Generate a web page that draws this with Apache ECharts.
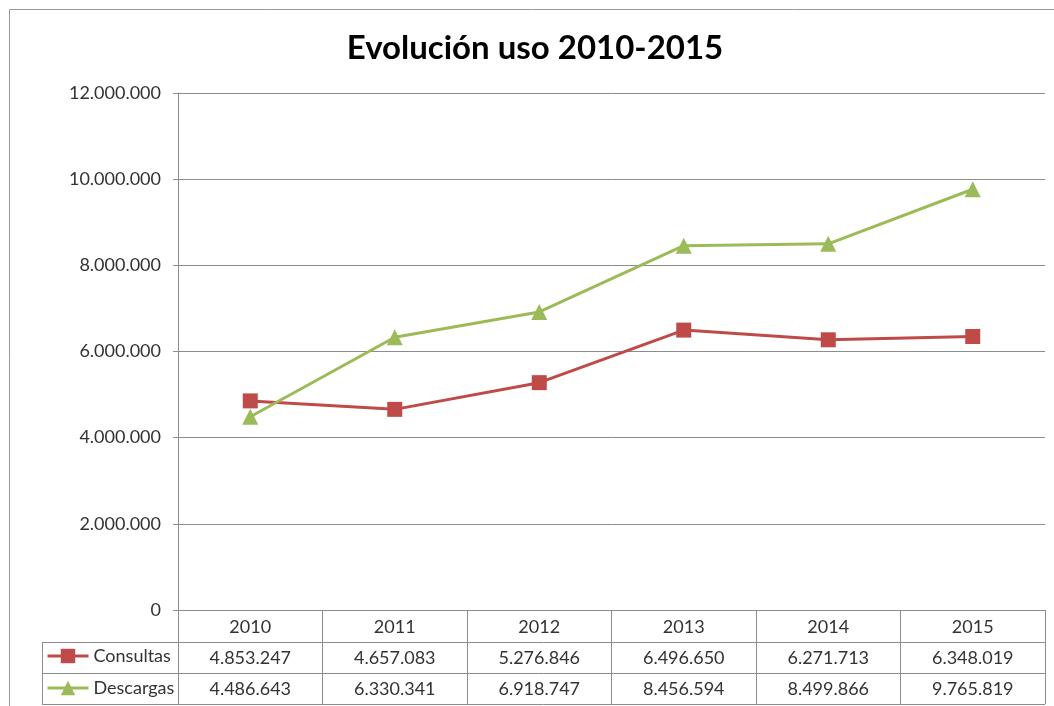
<!DOCTYPE html>
<html>
<head>
<meta charset="utf-8">
<script src="https://cdn.jsdelivr.net/npm/echarts@6/dist/echarts.min.js"></script>
<style>
html,body{margin:0;padding:0;background:#fff;}
#chart{width:1054px;height:706px;}
</style>
</head>
<body>
<div id="chart"></div>
<script>
var titleText = 'Evolución uso 2010-2015';
var categories = ['2010', '2011', '2012', '2013', '2014', '2015'];
var consultas = [4853247, 4657083, 5276846, 6496650, 6271713, 6348019];
var descargas = [4486643, 6330341, 6918747, 8456594, 8499866, 9765819];
var seriesNames = ['Consultas', 'Descargas'];
var yTicks = [0, 2000000, 4000000, 6000000, 8000000, 10000000, 12000000];

function fmt(n) {
  return String(n).replace(/\B(?=(\d{3})+(?!\d))/g, '.');
}

var FONT = 'Lato';
var TXT = '#333333';
var GRIDC = '#8c8c8c';

var chart = echarts.init(document.getElementById('chart'), null, {renderer: 'canvas'});

var legendBase = {
  left: 46,
  itemWidth: 41, itemHeight: 18, itemGap: 2,
  lineStyle: {width: 3},
  textStyle: {fontFamily: FONT, fontSize: 18, color: TXT},
  padding: 0
};

var option = {
  backgroundColor: '#ffffff',
  animation: false,
  title: {
    text: titleText,
    left: 530,
    textAlign: 'center',
    top: 27,
    textStyle: {fontFamily: FONT, fontWeight: 'bold', fontSize: 33, color: '#000000'}
  },
  grid: {left: 178, right: 9, top: 93, bottom: 96, containLabel: false},
  legend: [
    Object.assign({}, legendBase, {data: [seriesNames[0]], top: 647}),
    Object.assign({}, legendBase, {data: [seriesNames[1]], top: 679})
  ],
  xAxis: {
    type: 'category',
    data: categories,
    boundaryGap: true,
    axisLine: {show: true, lineStyle: {color: GRIDC, width: 1}},
    axisTick: {show: true, interval: 0, length: 94, lineStyle: {color: GRIDC, width: 1}},
    axisLabel: {
      interval: 0,
      margin: 2,
      formatter: function (v, i) {
        return '{a|' + v + '}\n{a|' + fmt(consultas[i]) + '}\n{a|' + fmt(descargas[i]) + '}';
      },
      rich: {a: {fontFamily: FONT, fontSize: 18, color: TXT, lineHeight: 31, align: 'center'}}
    },
    splitLine: {show: false}
  },
  yAxis: {
    type: 'value',
    min: yTicks[0],
    max: yTicks[yTicks.length - 1],
    interval: yTicks[1] - yTicks[0],
    axisLine: {show: true, lineStyle: {color: GRIDC, width: 1}},
    axisTick: {show: true, length: 5, lineStyle: {color: GRIDC}},
    axisLabel: {
      margin: 17,
      fontFamily: FONT, fontSize: 18, color: TXT,
      formatter: function (v) { return fmt(v); }
    },
    splitLine: {show: true, lineStyle: {color: GRIDC, width: 1}}
  },
  graphic: [
    {type: 'rect', shape: {x: 9.5, y: 9.5, width: 1100, height: 800}, style: {fill: 'none', stroke: '#9a9a9a', lineWidth: 1}, silent: true, z: -1},
    {type: 'line', shape: {x1: 42, y1: 642.5, x2: 1045, y2: 642.5}, style: {stroke: GRIDC, lineWidth: 1}},
    {type: 'line', shape: {x1: 42, y1: 673.5, x2: 1045, y2: 673.5}, style: {stroke: GRIDC, lineWidth: 1}},
    {type: 'line', shape: {x1: 42, y1: 704.5, x2: 1045, y2: 704.5}, style: {stroke: GRIDC, lineWidth: 1}},
    {type: 'line', shape: {x1: 42.5, y1: 642, x2: 42.5, y2: 705}, style: {stroke: GRIDC, lineWidth: 1}}
  ],
  series: [
    {
      name: seriesNames[0],
      type: 'line',
      data: consultas,
      symbol: 'rect',
      symbolSize: 15,
      lineStyle: {color: '#BE4B48', width: 3},
      itemStyle: {color: '#BE4B48'}
    },
    {
      name: seriesNames[1],
      type: 'line',
      data: descargas,
      symbol: 'triangle',
      symbolSize: 16,
      lineStyle: {color: '#9BBB59', width: 3},
      itemStyle: {color: '#9BBB59'}
    }
  ]
};
chart.setOption(option);
</script>
</body>
</html>
